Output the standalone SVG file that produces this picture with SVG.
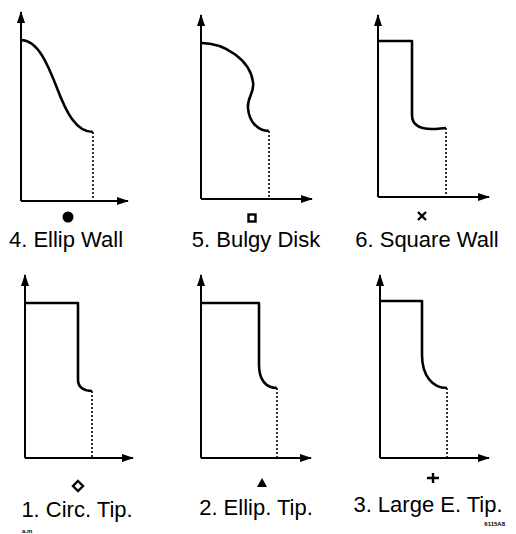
<svg xmlns="http://www.w3.org/2000/svg" width="516" height="534" viewBox="0 0 516 534">
<style>
.ax{fill:none;stroke:#000;stroke-width:2}
.cv{fill:none;stroke:#000;stroke-width:2.6;stroke-linejoin:round}
.dt{fill:none;stroke:#000;stroke-width:1.6;stroke-dasharray:2 2}
.lb{font-family:"Liberation Sans",Arial,sans-serif;font-size:22px;fill:#000;text-anchor:middle}
.sm{font-family:"Liberation Sans",Arial,sans-serif;font-size:6px;font-weight:bold;fill:#000}
.mk{fill:none;stroke:#000;stroke-width:2.4}
</style>
<defs>
<marker id="ah" viewBox="0 0 12 8" refX="11" refY="4" markerWidth="12" markerHeight="8" markerUnits="userSpaceOnUse" orient="auto">
<path d="M0,0 L12,4 L0,8 Z" fill="#000"/>
</marker>
</defs>
<rect width="516" height="534" fill="#fff"/>
<g id="connectors">
<path class="ax" d="M21,201 V12" marker-end="url(#ah)"/>
<path class="ax" d="M21,201 H128" marker-end="url(#ah)"/>
<path class="ax" d="M201,199 V15" marker-end="url(#ah)"/>
<path class="ax" d="M201,199 H312" marker-end="url(#ah)"/>
<path class="ax" d="M378,197 V15" marker-end="url(#ah)"/>
<path class="ax" d="M378,197 H489" marker-end="url(#ah)"/>
<path class="ax" d="M25,458 V275" marker-end="url(#ah)"/>
<path class="ax" d="M25,458 H133" marker-end="url(#ah)"/>
<path class="ax" d="M201,458 V275" marker-end="url(#ah)"/>
<path class="ax" d="M201,458 H311" marker-end="url(#ah)"/>
<path class="ax" d="M380,458 V275" marker-end="url(#ah)"/>
<path class="ax" d="M380,458 H489" marker-end="url(#ah)"/>
</g>
<g id="ellip-wall">
<path class="cv" d="M21,40 C38,40 48,65 57,88 C66,112 76,132 93,132"/>
<path class="dt" d="M93,132 V201"/>
<circle cx="68" cy="217" r="5.5" fill="#000"/>
<text class="lb" x="66" y="247">4. Ellip Wall</text>
</g>
<g id="bulgy-disk">
<path class="cv" d="M201,43 C225,43 250,60 253,82 C255,92 247,97 248,108 C249,122 258,131 269,131"/>
<path class="dt" d="M269,131 V199"/>
<rect class="mk" x="248.5" y="214.5" width="7" height="7"/>
<text class="lb" x="256" y="247">5. Bulgy Disk</text>
</g>
<g id="square-wall">
<path class="cv" d="M378,41 H412 V115 C412,125 420,129 432,129 C438,129 442,128 446,128"/>
<path class="dt" d="M446,128 V197"/>
<path class="mk" d="M418,212 L426,220 M426,212 L418,220"/>
<text class="lb" x="427" y="247">6. Square Wall</text>
</g>
<g id="circ-tip">
<path class="cv" d="M25,303 H78 V380 C78,388 85,391 92,391"/>
<path class="dt" d="M92,391 V458"/>
<path class="mk" d="M78,481 L83,486 L78,491 L73,486 Z"/>
<text class="lb" x="77" y="517">1. Circ. Tip.</text>
</g>
<g id="ellip-tip">
<path class="cv" d="M201,303 H259 V365 C259,380 266,388 277,388"/>
<path class="dt" d="M277,388 V458"/>
<path d="M262,478 L267,487 L257,487 Z" fill="#000"/>
<text class="lb" x="256" y="515">2. Ellip. Tip.</text>
</g>
<g id="large-e-tip">
<path class="cv" d="M380,301 H422 V355 C422,375 432,388 447,388"/>
<path class="dt" d="M447,388 V458"/>
<path class="mk" d="M427,478 H439 M433,473 V483"/>
<text class="lb" x="428" y="512">3. Large E. Tip.</text>
</g>
<text class="sm" x="22" y="533">a.m</text>
<text class="sm" x="505" y="526" text-anchor="end">6115A8</text>
</svg>
